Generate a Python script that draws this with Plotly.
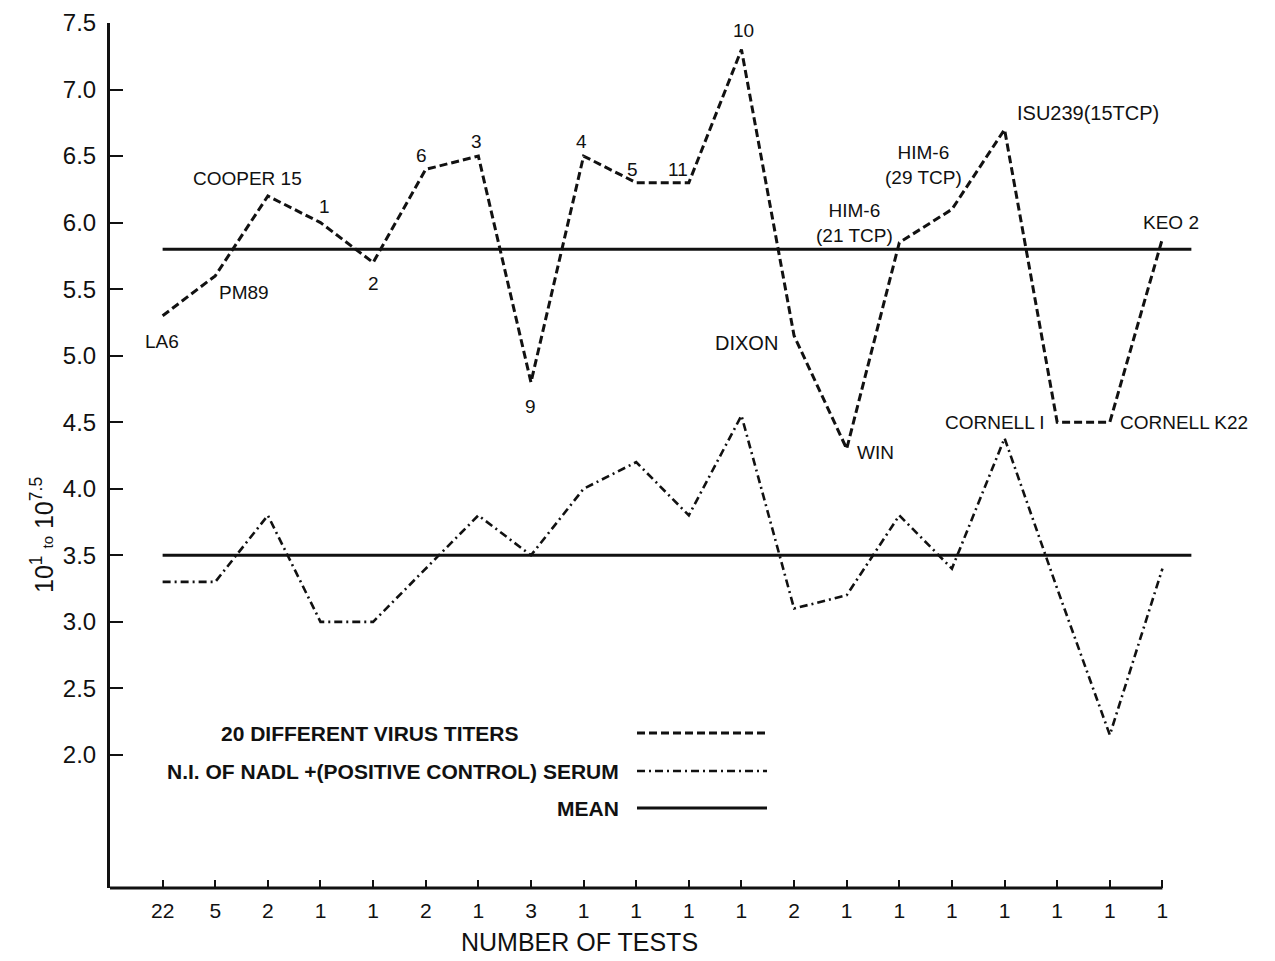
import plotly.graph_objects as go

# ---------------- data ----------------
num_tests = ["22", "5", "2", "1", "1", "2", "1", "3", "1", "1",
             "1", "1", "2", "1", "1", "1", "1", "1", "1", "1"]
virus_titers = [5.3, 5.6, 6.2, 6.0, 5.7, 6.4, 6.5, 4.8, 6.5, 6.3,
                6.3, 7.3, 5.15, 4.3, 5.85, 6.1, 6.7, 4.5, 4.5, 5.88]
virus_labels = ["LA6", "PM89", "COOPER 15", "1", "2", "6", "3", "9", "4", "5",
                "11", "10", "DIXON", "WIN", "HIM-6<br>(21 TCP)", "HIM-6<br>(29 TCP)",
                "ISU239(15TCP)", "CORNELL I", "CORNELL K22", "KEO 2"]
ni_serum = [3.3, 3.3, 3.8, 3.0, 3.0, 3.4, 3.8, 3.5, 4.0, 4.2,
            3.8, 4.55, 3.1, 3.2, 3.8, 3.4, 4.38, 3.25, 2.15, 3.4]
mean_virus = 5.8
mean_ni = 3.5
y_ticks = [2.0, 2.5, 3.0, 3.5, 4.0, 4.5, 5.0, 5.5, 6.0, 6.5, 7.0, 7.5]

legend_names = ["20 DIFFERENT VIRUS TITERS",
                "N.I. OF NADL +(POSITIVE CONTROL) SERUM",
                "MEAN"]

# ---------------- styling ----------------
INK = "#111111"
FONT = "Liberation Sans"
idx = list(range(len(num_tests)))

# page body has an 8px margin; figure sized to fit the window
FIG_W, FIG_H = 1267, 953
L, T, W, H = 102.0, 15.0, 1084.0, 865.0

fig = go.Figure()

mean_x = [idx[0], idx[-1] + 0.55]
fig.add_trace(go.Scatter(x=mean_x, y=[mean_virus, mean_virus], mode="lines",
                         line=dict(color=INK, width=3), showlegend=False, hoverinfo="skip"))
fig.add_trace(go.Scatter(x=mean_x, y=[mean_ni, mean_ni], mode="lines",
                         line=dict(color=INK, width=3), showlegend=False, hoverinfo="skip"))
fig.add_trace(go.Scatter(x=idx, y=virus_titers, mode="lines",
                         line=dict(color=INK, width=3, dash="8px,4px"), showlegend=False))
fig.add_trace(go.Scatter(x=idx, y=ni_serum, mode="lines",
                         line=dict(color=INK, width=2.6, dash="8px,4px,2px,4px"), showlegend=False))

# point label placement: (xanchor, xshift, yshift, size)
label_pos = [("center", -1, -26, 19), ("center", 29, -17, 19), ("center", -20, 18, 19),
             ("center", 4, 16, 19), ("center", 0, -21, 19), ("center", -4, 14, 19),
             ("center", -2, 15, 19), ("center", 0, -24, 19), ("center", -2, 15, 19),
             ("center", -4, 13, 19), ("center", -11, 13, 19), ("center", 2, 19, 19),
             ("right", -14, -7, 20), ("left", 8, -4, 19), ("right", -4, 20, 19),
             ("center", -28, 44, 19), ("left", 10, 16, 20), ("right", -10, 0, 19),
             ("left", 8, 0, 19), ("center", 9, 16, 19)]

annotations = []
for i, (lab, yv) in enumerate(zip(virus_labels, virus_titers)):
    xa, xs, ys, fs = label_pos[i]
    annotations.append(dict(x=idx[i], y=yv, xref="x", yref="y", text=lab, showarrow=False,
                            xanchor=xa, yanchor="middle", xshift=xs, yshift=ys,
                            font=dict(family=FONT, size=fs, color=INK), align="center"))


def px(xp):
    return (xp - 8 - L) / W


def py(yp):
    return (T + H - (yp - 8)) / H


# axis titles
annotations.append(dict(x=px(579), y=py(942), xref="paper", yref="paper", text="NUMBER OF TESTS",
                        showarrow=False, xanchor="center", yanchor="middle",
                        font=dict(family=FONT, size=25, color=INK)))
annotations.append(dict(x=px(42), y=py(535), xref="paper", yref="paper",
                        text="10<sup>1</sup> <span style='font-size:15px'>to</span> 10<sup>7.5</sup>",
                        textangle=-90, showarrow=False, xanchor="center", yanchor="middle",
                        font=dict(family=FONT, size=25, color=INK)))

# legend (text left, line sample right)
legend_rows = [(legend_names[0], 521, 733, "8px,4px", 3),
               (legend_names[1], 621, 771, "8px,4px,2px,4px", 2.6),
               (legend_names[2], 621, 808, "solid", 3)]
shapes = []
for name, right_px, ypx, dash, w in legend_rows:
    annotations.append(dict(x=px(right_px), y=py(ypx), xref="paper", yref="paper",
                            text="<b>" + name + "</b>",
                            showarrow=False, xanchor="right", yanchor="middle",
                            font=dict(family=FONT, size=21, color=INK)))
    shapes.append(dict(type="line", xref="paper", yref="paper", x0=px(637), x1=px(767),
                       y0=py(ypx), y1=py(ypx), line=dict(color=INK, width=w, dash=dash)))

# x-axis baseline (ends at last category)
shapes.append(dict(type="line", xref="x", yref="paper", x0=-1, x1=idx[-1], y0=0, y1=0,
                   line=dict(color=INK, width=3)))

fig.update_layout(
    width=FIG_W, height=FIG_H,
    margin=dict(l=L, r=FIG_W - L - W, t=T, b=FIG_H - T - H),
    paper_bgcolor="white", plot_bgcolor="white",
    showlegend=False,
    annotations=annotations, shapes=shapes,
    xaxis=dict(range=[-1, 19.6], tickvals=idx, ticktext=num_tests, ticks="inside",
               ticklen=8, tickwidth=2, tickcolor=INK, showgrid=False, zeroline=False,
               showline=False, ticklabelstandoff=8, automargin=False,
               tickfont=dict(family=FONT, size=21, color=INK)),
    yaxis=dict(range=[1.0, 7.5], tickvals=y_ticks, tickformat=".1f", ticks="inside",
               ticklen=13, tickwidth=2, tickcolor=INK, showgrid=False, zeroline=False,
               showline=True, linewidth=3, linecolor=INK, ticklabelstandoff=6, automargin=False,
               tickfont=dict(family=FONT, size=24, color=INK)),
)

fig.write_html("out.html")
